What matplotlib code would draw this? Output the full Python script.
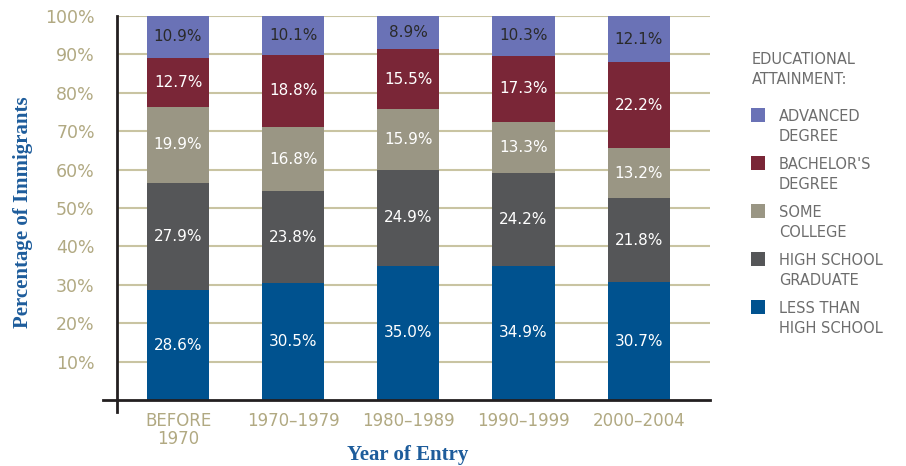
import matplotlib
matplotlib.use('Agg')
import matplotlib.pyplot as plt
from matplotlib.patches import Rectangle
import numpy as np

# data
periods = ['BEFORE\n1970', '1970\u20131979', '1980\u20131989', '1990\u20131999', '2000\u20132004']
levels = ['Less Than High School', 'High School Graduate', 'Some College',
          "Bachelor's Degree", 'Advanced Degree']
legendLabels = ['LESS THAN\nHIGH SCHOOL', 'HIGH SCHOOL\nGRADUATE', 'SOME\nCOLLEGE',
                "BACHELOR'S\nDEGREE", 'ADVANCED\nDEGREE']
lessThanHS = [28.6, 30.5, 35.0, 34.9, 30.7]
hsGraduate = [27.9, 23.8, 24.9, 24.2, 21.8]
someCollege = [19.9, 16.8, 15.9, 13.3, 13.2]
bachelors = [12.7, 18.8, 15.5, 17.3, 22.2]
advanced = [10.9, 10.1, 8.9, 10.3, 12.1]
yTicks = [10, 20, 30, 40, 50, 60, 70, 80, 90, 100]

series = [lessThanHS, hsGraduate, someCollege, bachelors, advanced]
colors = ['#00528f', '#555658', '#9a9684', '#7a2637', '#6a72b6']
textColors = ['white', 'white', 'white', 'white', '#2a2a2a']
tickColor = '#b1a982'
gridColor = '#c9c4a2'
titleColor = '#1d5c9b'
legendColor = '#6d6d6d'

dpi = 100
W, H = 906, 466
fig = plt.figure(figsize=(W / dpi, H / dpi), dpi=dpi)
ax = fig.add_axes([117 / W, 1 - 400 / H, (710 - 117) / W, (400 - 16) / H])

x = np.arange(len(periods))
bottom = np.zeros(len(periods))
containers = []
for vals, col, tcol in zip(series, colors, textColors):
  vals = np.array(vals)
  bars = ax.bar(x, vals, width=0.54, bottom=bottom, color=col, zorder=3)
  containers.append(bars)
  for xi, b, v in zip(x, bottom, vals):
    ax.text(xi, b + v / 2, '%.1f%%' % v, ha='center', va='center',
            color=tcol, fontsize=11, zorder=4)
  bottom += vals

ax.set_xlim(-0.53, 4.62)
ax.set_ylim(0, 100)
ax.set_yticks(yTicks)
ax.set_yticklabels(['%d%%' % t for t in yTicks])
ax.set_xticks(x)
ax.set_xticklabels(periods, linespacing=0.95)
ax.tick_params(axis='y', length=0, pad=16, labelsize=12.5, labelcolor=tickColor)
ax.tick_params(axis='x', length=0, pad=9, labelsize=12, labelcolor=tickColor)

ax.yaxis.grid(True, color=gridColor, linewidth=1.5, zorder=0)
for s in ['top', 'right', 'bottom', 'left']:
  ax.spines[s].set_visible(False)

# axis lines overshooting the corner, as in the original
ax.plot([-0.53 - 14 / 115.25, 4.62], [0, 0], color='#231f20', lw=2, clip_on=False, zorder=5)
ax.plot([-0.53, -0.53], [-12 / 3.84, 100], color='#231f20', lw=2, clip_on=False, zorder=5)

fig.text(23 / W, 1 - 212 / H, 'Percentage of Immigrants', family='Liberation Serif',
         fontweight='bold', fontsize=15, color=titleColor, rotation=90,
         ha='center', va='center')
fig.text(408 / W, 1 - 455 / H, 'Year of Entry', family='Liberation Serif',
         fontweight='bold', fontsize=15, color=titleColor, ha='center', va='center')

# legend drawn by hand so the swatch sits on the first line of each label
fig.text(752 / W, 1 - 52 / H, 'EDUCATIONAL\nATTAINMENT:', ha='left', va='top',
         fontsize=10.5, color=legendColor, linespacing=1.4)
for i, lab in enumerate(legendLabels[::-1]):
  idx = len(legendLabels) - 1 - i
  top = 108 + 48 * i
  fig.patches.append(Rectangle((751 / W, 1 - (top + 14) / H), 14 / W, 14 / H,
                               transform=fig.transFigure,
                               facecolor=containers[idx].patches[0].get_facecolor(),
                               edgecolor='none'))
  fig.text(779 / W, 1 - (top + 1) / H, lab, ha='left', va='top',
           fontsize=10.5, color=legendColor, linespacing=1.4)

fig.savefig('out.png', dpi=dpi)
